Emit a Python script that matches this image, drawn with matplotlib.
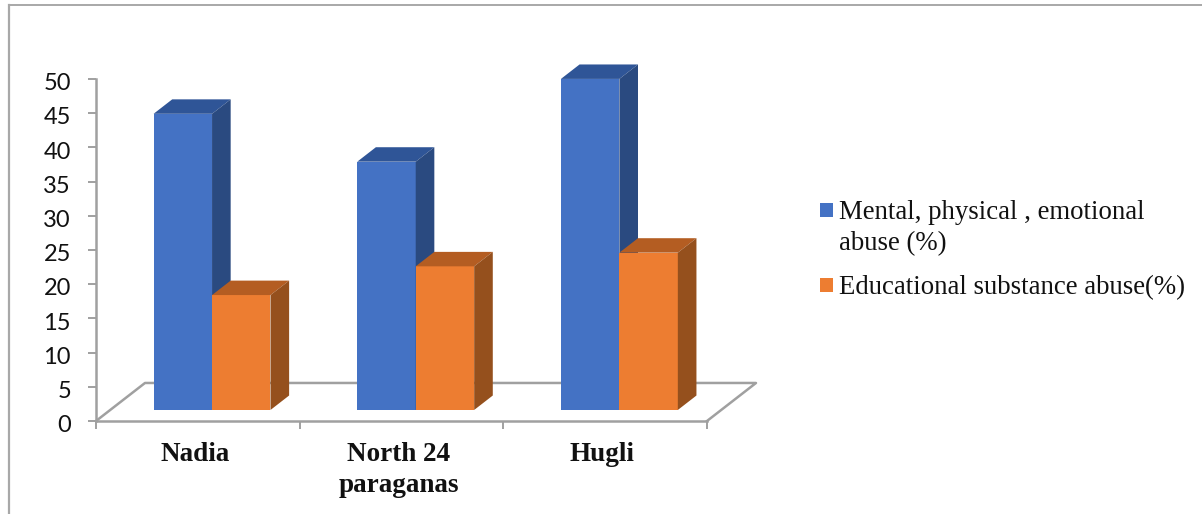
import matplotlib
matplotlib.use("Agg")
import matplotlib.pyplot as plt
from matplotlib.patches import Polygon, Rectangle
from matplotlib.transforms import ScaledTranslation

categories = ["Nadia", "North 24\nparaganas", "Hugli"]
series_names = ["Mental, physical , emotional\nabuse (%)", "Educational substance abuse(%)"]
mental = [43.3, 36.3, 48.4]
educational = [16.8, 21.0, 23.0]
y_ticks = [0, 5, 10, 15, 20, 25, 30, 35, 40, 45, 50]

W, H = 1202, 514
DEPTH_X = 0.2406   # category units the floor shifts going back
DEPTH_Y = 5.56     # value units the floor shifts going back
BAR_Z0, BAR_Z1 = 0.29, 0.67
BAR_W = 0.287
GREY = "#a0a0a0"

fills = [("#4472c4", "#2f5597", "#2a4a80"), ("#ed7d31", "#b45d22", "#95501d")]


def project(x, v, z):
    return x + z * DEPTH_X, v + z * DEPTH_Y


def draw_bar(ax, x0, x1, v, colours):
    front, top, side = colours
    z0, z1 = BAR_Z0, BAR_Z1
    faces = [
        ([project(x0, 0, z0), project(x1, 0, z0), project(x1, v, z0), project(x0, v, z0)], front),
        ([project(x0, v, z0), project(x1, v, z0), project(x1, v, z1), project(x0, v, z1)], top),
        ([project(x1, 0, z0), project(x1, 0, z1), project(x1, v, z1), project(x1, v, z0)], side),
    ]
    for pts, colour in faces:
        ax.add_patch(Polygon(pts, fc=colour, ec="none", zorder=3, clip_on=False))


fig = plt.figure(figsize=(W / 100, H / 100), dpi=100)
ax = fig.add_axes([96 / W, 1 - 421 / H, (707 - 96) / W, (421 - 79) / H])
ax.set_xlim(0, 3)
ax.set_ylim(0, 50)
ax.patch.set_alpha(0)

for s in ["top", "right"]:
    ax.spines[s].set_visible(False)
for s in ["left", "bottom"]:
    ax.spines[s].set_color(GREY)
    ax.spines[s].set_linewidth(1.8)

ax.set_yticks(y_ticks)
ax.set_yticklabels([str(t) for t in y_ticks], family="Lato", fontsize=17, color="#111111")
ax.set_xticks(range(4))
ax.set_xticklabels([])
ax.tick_params(axis="both", color=GREY, width=1.4, length=6)
ax.tick_params(axis="y", pad=12)

# nudge the value labels down a little
nudge = ScaledTranslation(0, -2 / 72, fig.dpi_scale_trans)
for label in ax.get_yticklabels():
    label.set_transform(label.get_transform() + nudge)

# floor outline behind the bars
floor_x = [0, DEPTH_X, 3 + DEPTH_X, 3]
floor_y = [0, DEPTH_Y, DEPTH_Y, 0]
ax.plot(floor_x, floor_y, color=GREY, lw=1.8, clip_on=False, zorder=2)

for i in range(3):
    mid = i + 0.5
    draw_bar(ax, mid - BAR_W, mid, mental[i], fills[0])
    draw_bar(ax, mid, mid + BAR_W, educational[i], fills[1])
    ax.annotate(categories[i], (mid, 0), xytext=(-2, -15), textcoords="offset points",
                ha="center", va="top", family="Liberation Serif", fontweight="bold",
                fontsize=19.5, linespacing=1.3, color="#111111", annotation_clip=False)

# legend, placed by hand on the figure
legend_y = [210, 285]
for name, y, colours in zip(series_names, legend_y, fills):
    fig.add_artist(Rectangle((820 / W, 1 - (y + 7) / H), 13.5 / W, 14 / H,
                             transform=fig.transFigure, fc=colours[0], ec="none"))
    fig.text(839 / W, 1 - (y - 10) / H, name, family="Liberation Serif", fontsize=19.3,
             va="top", ha="left", color="#111111", linespacing=1.34)

# outer frame
fig.add_artist(plt.Line2D([9 / W, 9 / W], [0, 1 - 5 / H], color="#a8a8a8", lw=1.6))
fig.add_artist(plt.Line2D([9 / W, 1], [1 - 5 / H, 1 - 5 / H], color="#a8a8a8", lw=1.4))

fig.savefig("out.png", dpi=100)
